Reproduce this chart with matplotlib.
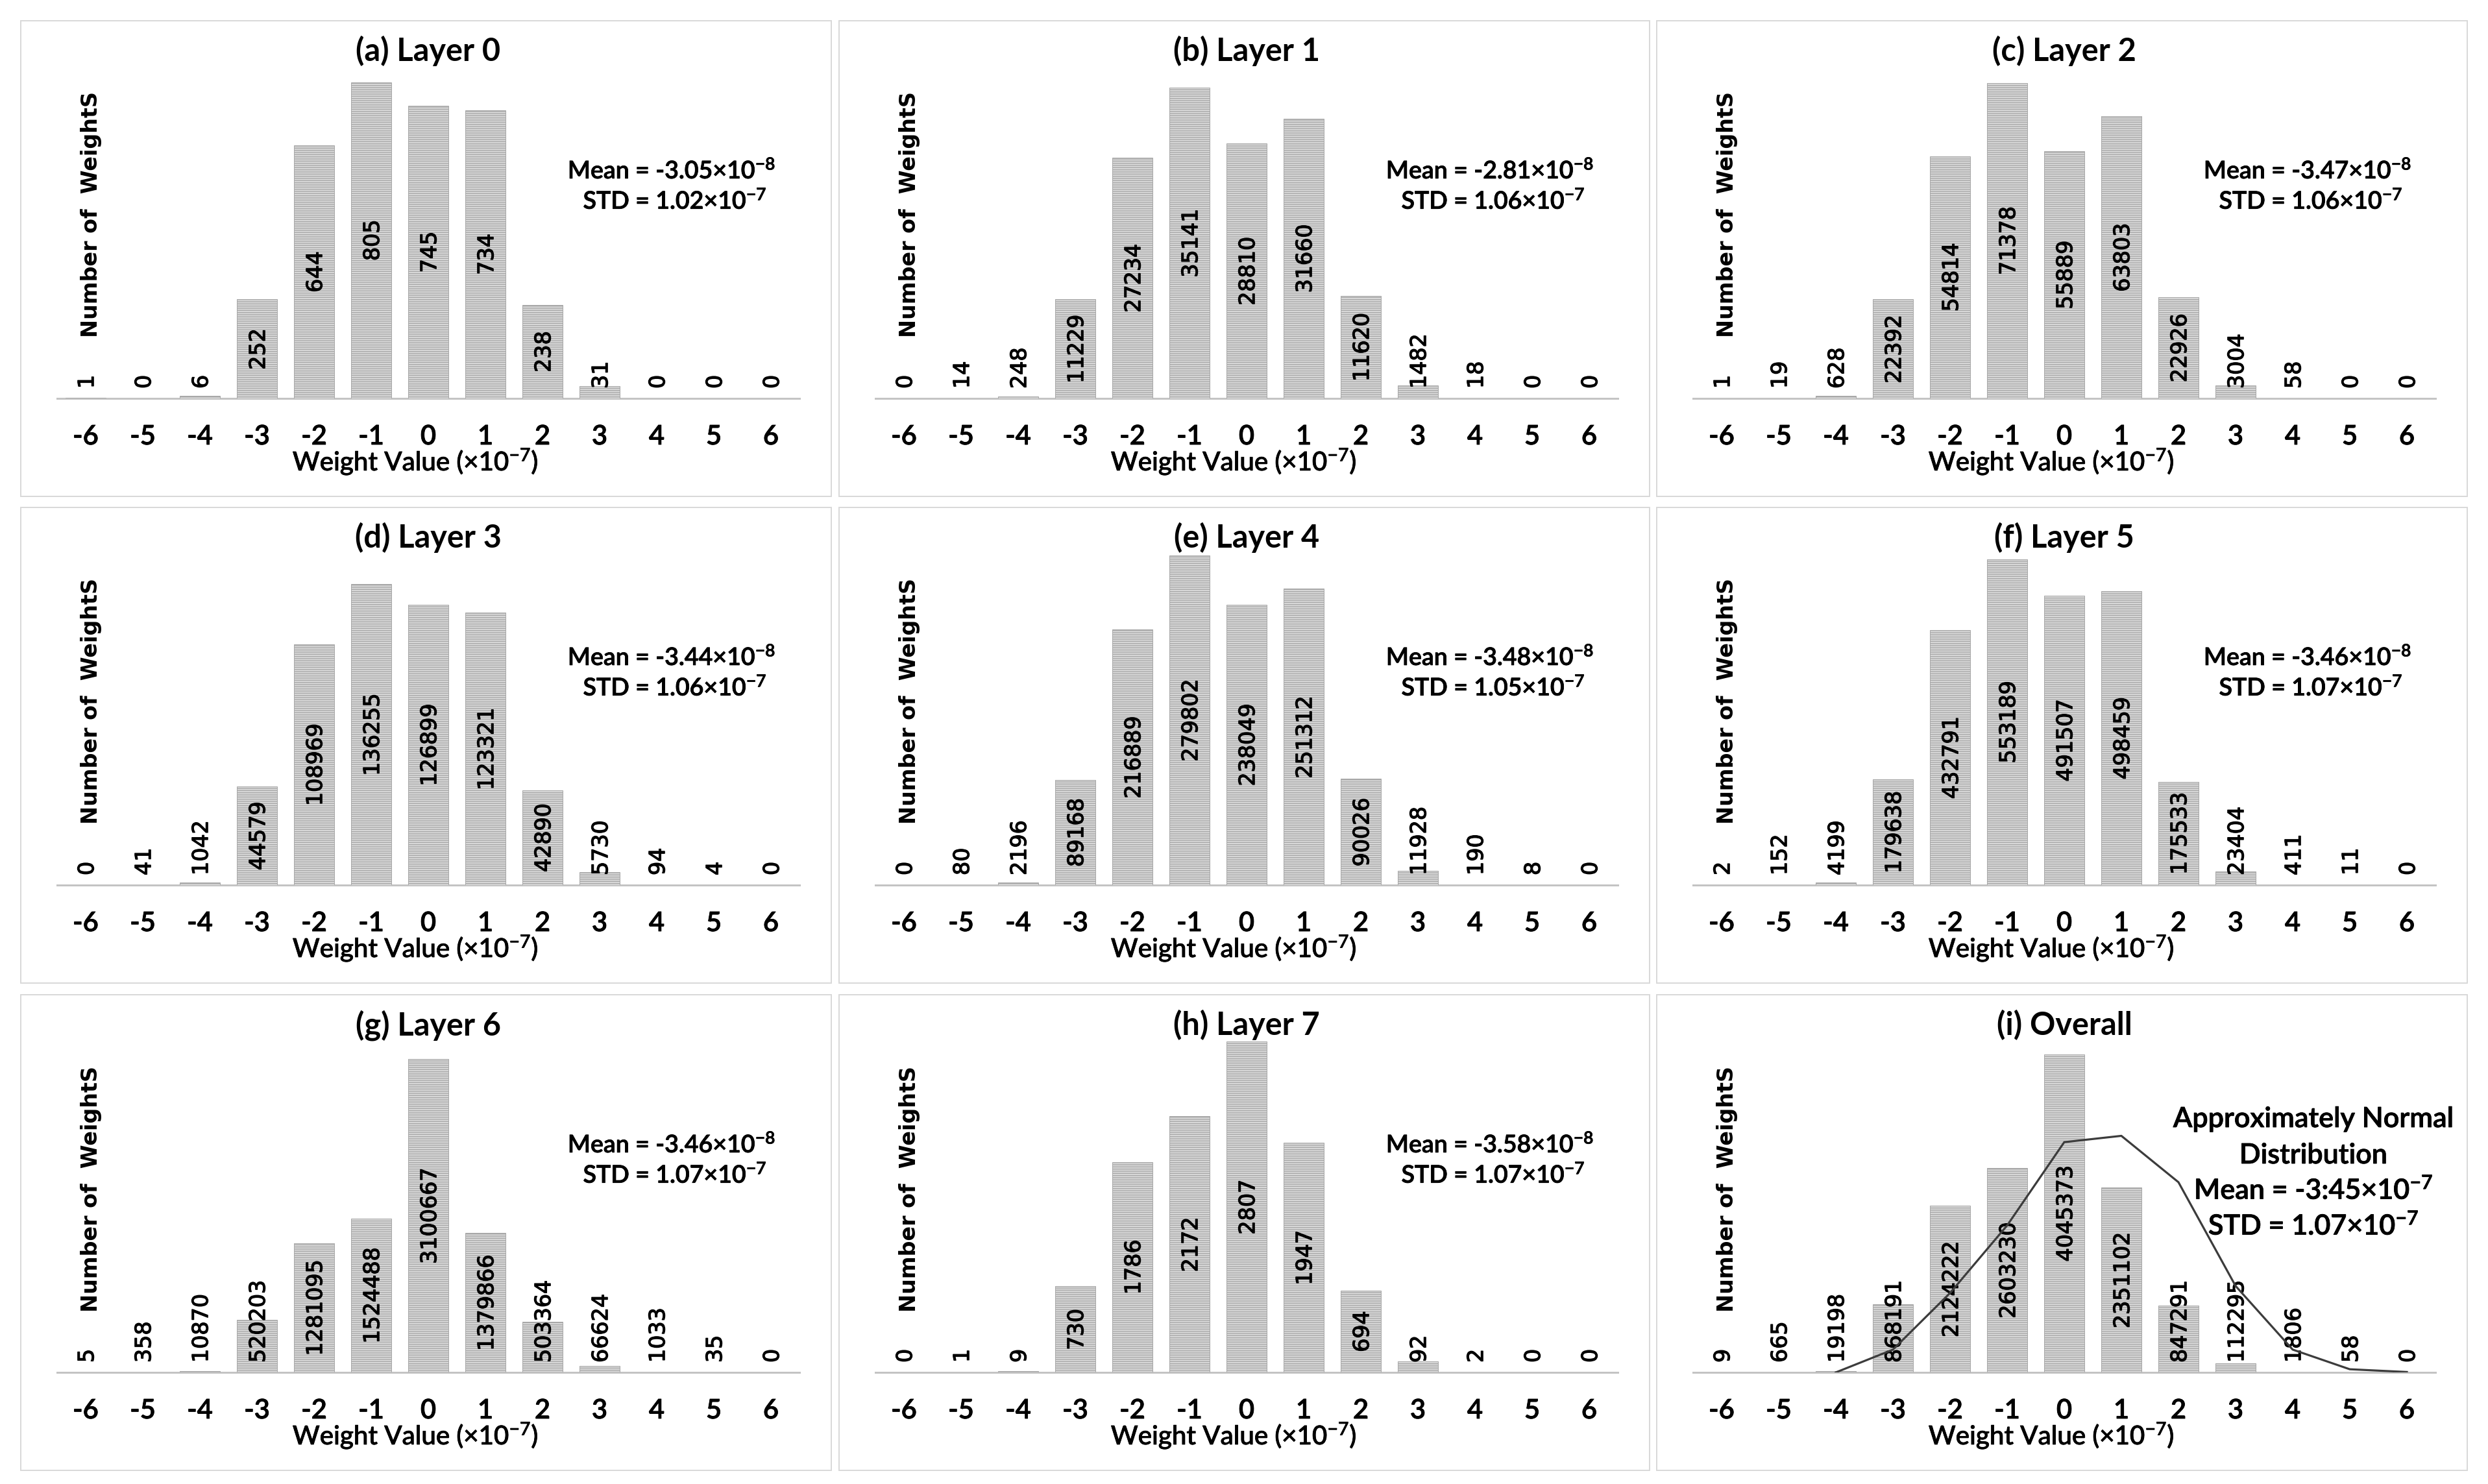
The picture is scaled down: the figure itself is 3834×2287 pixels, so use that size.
import matplotlib
matplotlib.use('Agg')
import matplotlib.pyplot as plt
import matplotlib.transforms as mtransforms
import matplotlib.patheffects as pe
from matplotlib.patches import Rectangle

plt.rcParams['font.family'] = ['Lato', 'DejaVu Sans']
plt.rcParams['mathtext.default'] = 'regular'
plt.rcParams['hatch.linewidth'] = 1.0

# ---------------- data ----------------
weight_bins = [-6, -5, -4, -3, -2, -1, 0, 1, 2, 3, 4, 5, 6]
bin_labels = ['-6', '-5', '-4', '-3', '-2', '-1', '0', '1', '2', '3', '4', '5', '6']

titles = ['(a) Layer 0', '(b) Layer 1', '(c) Layer 2',
          '(d) Layer 3', '(e) Layer 4', '(f) Layer 5',
          '(g) Layer 6', '(h) Layer 7', '(i) Overall']

layer_0 = [1, 0, 6, 252, 644, 805, 745, 734, 238, 31, 0, 0, 0]
layer_1 = [0, 14, 248, 11229, 27234, 35141, 28810, 31660, 11620, 1482, 18, 0, 0]
layer_2 = [1, 19, 628, 22392, 54814, 71378, 55889, 63803, 22926, 3004, 58, 0, 0]
layer_3 = [0, 41, 1042, 44579, 108969, 136255, 126899, 123321, 42890, 5730, 94, 4, 0]
layer_4 = [0, 80, 2196, 89168, 216889, 279802, 238049, 251312, 90026, 11928, 190, 8, 0]
layer_5 = [2, 152, 4199, 179638, 432791, 553189, 491507, 498459, 175533, 23404, 411, 11, 0]
layer_6 = [5, 358, 10870, 520203, 1281095, 1524488, 3100667, 1379866, 503364, 66624, 1033, 35, 0]
layer_7 = [0, 1, 9, 730, 1786, 2172, 2807, 1947, 694, 92, 2, 0, 0]
overall = [9, 665, 19198, 868191, 2124222, 2603230, 4045373, 2351102, 847291, 112295, 1806, 58, 0]
counts = [layer_0, layer_1, layer_2, layer_3, layer_4, layer_5, layer_6, layer_7, overall]

curve_bins = [-4, -3, -2, -1, 0, 1, 2, 3, 4, 5, 6]
curve_values = [0, 290000, 1010000, 1870000, 2930000, 3010000, 2420000, 1100000, 290000, 40000, 5000]

mean_mantissa = ['-3.05', '-2.81', '-3.47', '-3.44', '-3.48', '-3.46', '-3.46', '-3.58', '-3:45']
mean_exponent = ['-8', '-8', '-8', '-8', '-8', '-8', '-8', '-8', '-7']
std_mantissa = ['1.02', '1.06', '1.06', '1.06', '1.05', '1.07', '1.07', '1.07', '1.07']
std_exponent = ['-7', '-7', '-7', '-7', '-7', '-7', '-7', '-7', '-7']
axis_max = [900, 40000, 80000, 160000, 300000, 600000, 3500000, 3000, 4500000]

y_label = 'Number of  WeightS'
x_label = 'Weight Value (×10$^{-7}$)'
overall_note = ['Approximately Normal', 'Distribution']

# ---------------- layout ----------------
W, H, DPI = 3834, 2287, 100
PT = 72.0 / DPI
fig = plt.figure(figsize=(W / DPI, H / DPI), dpi=DPI)
fig.patch.set_facecolor('white')


def fx(px):
    return px / W


def fy(py):
    return 1 - py / H


COL_X = [32, 1293, 2553]
ROW_Y = [32, 782, 1533]
PW, PH = 1249, 733
AX_L, AX_R, AX_T, AX_B = 56, 1200, 37, 582
GAP = 15

VAL_FS = 24
VAL_CAP = 0.729 * VAL_FS / PT
thick = [pe.withStroke(linewidth=0.9, foreground='black')]
thin = [pe.withStroke(linewidth=0.6, foreground='black')]
label_texts = []

for i in range(9):
    r, c = divmod(i, 3)
    x0, y0 = COL_X[c], ROW_Y[r]
    fig.add_artist(Rectangle((fx(x0), fy(y0 + PH)), PW / W, PH / H,
                             transform=fig.transFigure, fill=False,
                             edgecolor='#d9d9d9', lw=2 * PT))
    ax = fig.add_axes([fx(x0 + AX_L), fy(y0 + AX_B),
                       (AX_R - AX_L) / W, (AX_B - AX_T) / H])
    ax.set_xlim(-6.5, 6.5)
    ax.set_ylim(0, axis_max[i])
    for s in ['top', 'left', 'right']:
        ax.spines[s].set_visible(False)
    ax.spines['bottom'].set_color('#c4c4c4')
    ax.spines['bottom'].set_linewidth(3 * PT)
    ax.spines['bottom'].set_zorder(1)
    ax.set_xticks([])
    ax.set_yticks([])
    ax.patch.set_alpha(0)

    vals = counts[i]
    ax.bar(weight_bins, vals, width=0.7, color='#dadada', edgecolor='#a8a8a8',
           hatch='-----', linewidth=1 * PT, zorder=2)

    off = mtransforms.ScaledTranslation(VAL_CAP / 2 / DPI, 0, fig.dpi_scale_trans)
    for b, v in zip(weight_bins, vals):
        t = ax.text(b, v / 2, str(v), rotation=90, rotation_mode='anchor',
                    ha='center', va='baseline', fontsize=VAL_FS,
                    family='DejaVu Sans', color='black',
                    transform=ax.transData + off, zorder=3, path_effects=thick)
        label_texts.append((ax, t, v, axis_max[i]))

    if i == 8:
        ax.plot(curve_bins, curve_values, color='#3c3c3c', lw=2.3, zorder=4)

    # tick labels
    tr = mtransforms.blended_transform_factory(ax.transData, fig.transFigure)
    for b, lab in zip(weight_bins, bin_labels):
        ax.text(b, fy(y0 + 653), lab, transform=tr, ha='center', va='baseline',
                fontsize=30, fontweight='semibold', color='black',
                path_effects=thin)

    fig.text(fx(x0 + 608), fy(y0 + 693), x_label, ha='center', va='baseline',
             fontsize=29, fontweight='medium', color='black', path_effects=thin)
    fig.text(fx(x0 + 628), fy(y0 + 62), titles[i], ha='center', va='baseline',
             fontsize=35, fontweight='bold', color='black')
    fig.text(fx(x0 + 118), fy(y0 + 299), y_label, rotation=90,
             rotation_mode='anchor', ha='center', va='baseline',
             family='DejaVu Sans', fontweight='bold', fontsize=24, color='black')

    mean_str = 'Mean = %s×10$^{%s}$' % (mean_mantissa[i], mean_exponent[i])
    std_str = 'STD = %s×10$^{%s}$' % (std_mantissa[i], std_exponent[i])
    if i < 8:
        fig.text(fx(x0 + 1003), fy(y0 + 243), mean_str, ha='center',
                 va='baseline', fontsize=27, fontweight='semibold', color='black',
                 path_effects=thin)
        fig.text(fx(x0 + 1008), fy(y0 + 290), std_str, ha='center',
                 va='baseline', fontsize=27, fontweight='semibold', color='black',
                 path_effects=thin)
    else:
        lines = overall_note + [mean_str, std_str]
        bases = [204, 260, 315, 370]
        for ln, bl in zip(lines, bases):
            fig.text(fx(x0 + 1012), fy(y0 + bl), ln, ha='center', va='baseline',
                     fontsize=31, fontweight='semibold', color='black',
                     path_effects=thin)

# position value labels: centred in bar, but never lower than GAP above baseline
fig.canvas.draw()
renderer = fig.canvas.get_renderer()
for ax, t, v, ymax in label_texts:
    L = t.get_window_extent(renderer).height
    ax_h = ax.get_window_extent(renderer).height
    bar_px = v / ymax * ax_h
    center_px = max(bar_px / 2, GAP + L / 2)
    t.set_y(center_px / ax_h * ymax)

fig.savefig('out.png', dpi=DPI, facecolor='white')
